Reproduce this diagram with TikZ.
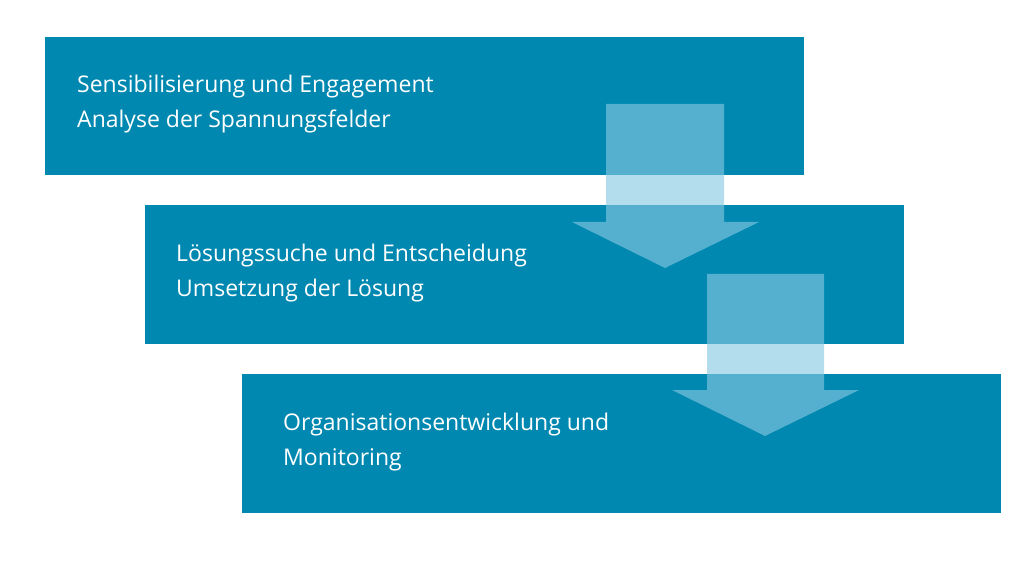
\documentclass[tikz,border=0pt]{standalone}
\usepackage{fontspec}
\setmainfont{Open Sans}
\definecolor{boxblue}{RGB}{0,136,176}
\definecolor{arrblue}{RGB}{135,200,227}
\begin{document}
\begin{tikzpicture}[x=1pt,y=-1pt,
  stepbox/.style={fill=boxblue,draw=none},
  arr/.style={fill=arrblue,fill opacity=0.63,draw=none},
  lbl/.style={anchor=north west,align=left,text=white,font=\fontsize{23}{35}\selectfont,inner sep=0pt}]
\useasboundingbox (0,0) rectangle (1033,569);
\fill[stepbox] (45,37) rectangle (804,175);
\fill[stepbox] (145,205) rectangle (904,344);
\fill[stepbox] (242,374) rectangle (1001,513);
\node[lbl] (t1) at (77,75) {Sensibilisierung und Engagement\\Analyse der Spannungsfelder};
\node[lbl] (t2) at (176,244) {Lösungssuche und Entscheidung\\Umsetzung der Lösung};
\node[lbl] (t3) at (283,413) {Organisationsentwicklung und\\Monitoring};
\fill[arr] (606,104) -- (724,104) -- (724,222) -- (759,222) -- (665,268) -- (572,222) -- (606,222) -- cycle;
\fill[arr] (707,274) -- (824,274) -- (824,390) -- (859,390) -- (765,436) -- (672,390) -- (707,390) -- cycle;
\end{tikzpicture}
\end{document}
